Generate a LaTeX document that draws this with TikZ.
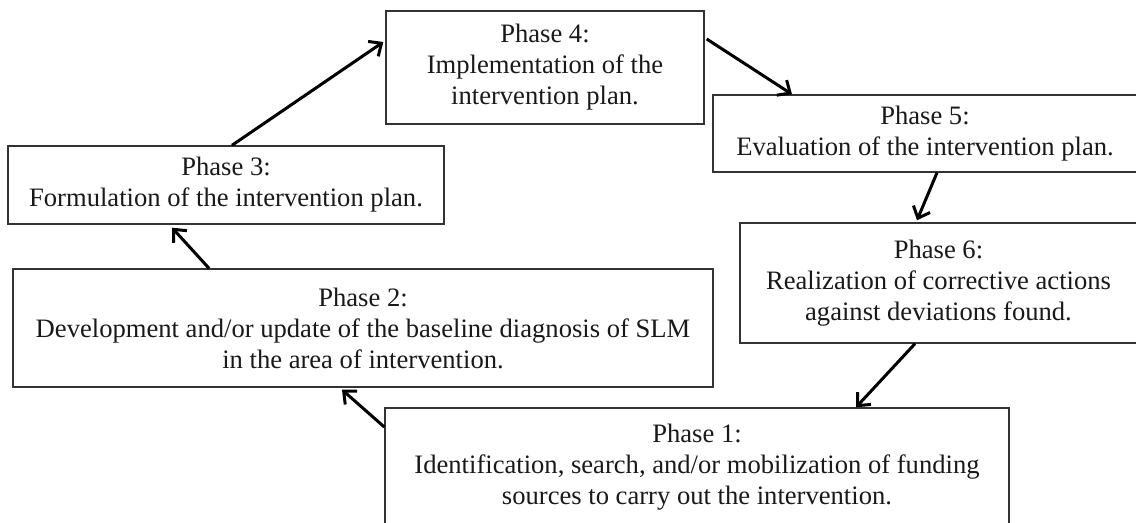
\documentclass[tikz,border=0pt]{standalone}
\usepackage{fontspec}
\setmainfont{Liberation Serif}
\usetikzlibrary{arrows.meta}

\begin{document}
\begin{tikzpicture}[>={Straight Barb[length=5pt,width=9pt]}, x=0.5pt, y=-0.5pt]
  % definition of the basic styles.
  \tikzset{phase/.style={draw=black!80, line width=0.7pt, inner sep=0pt, align=center,
      text=black!90, font=\fontsize{13.3}{15.5}\selectfont}}
  \tikzset{flow/.style={->, line width=1.5pt}}

  % The frame of the page
  \useasboundingbox (0,0) rectangle (1136,523);
  \clip (0,0) rectangle (1136,523);

  % The six phases
  \node[phase, minimum width=312pt, minimum height=59pt] (p1) at (697,467)
    {Phase 1:\\Identification, search, and/or mobilization of funding\\sources to carry out the intervention.};
  \node[phase, minimum width=350pt, minimum height=59pt] (p2) at (363,328)
    {Phase 2:\\Development and/or update of the baseline diagnosis of SLM\\in the area of intervention.};
  \node[phase, minimum width=218pt, minimum height=39pt] (p3) at (226,185)
    {Phase 3:\\Formulation of the intervention plan.};
  \node[phase, minimum width=159pt, minimum height=56.5pt] (p4) at (545,67.5)
    {Phase 4:\\Implementation of the\\intervention plan.};
  \node[phase, minimum width=212pt, minimum height=38.5pt] (p5) at (925,133.5)
    {Phase 5:\\Evaluation of the intervention plan.};
  \node[phase, minimum width=198.5pt, minimum height=60pt] (p6) at (938.5,283)
    {Phase 6:\\Realization of corrective actions\\against deviations found.};

  % The cycle of arrows
  \draw[flow] ([xshift=3pt]p3.north) -- ([xshift=-1pt, yshift=12.75pt]p4.west);
  \draw[flow] ([xshift=1pt, yshift=14.25pt]p4.east) -- ([xshift=-66.5pt]p5.north);
  \draw[flow] ([xshift=6pt]p5.south) -- ([xshift=-10.75pt, yshift=1pt]p6.north);
  \draw[flow] ([xshift=-11.75pt]p6.south) -- ([xshift=79.5pt]p1.north);
  \draw[flow] ([yshift=20pt]p1.west) -- ([xshift=-10.5pt, yshift=-1pt]p2.south);
  \draw[flow] ([xshift=-77pt]p2.north) -- ([xshift=-27pt, yshift=-1.5pt]p3.south);
\end{tikzpicture}
\end{document}
